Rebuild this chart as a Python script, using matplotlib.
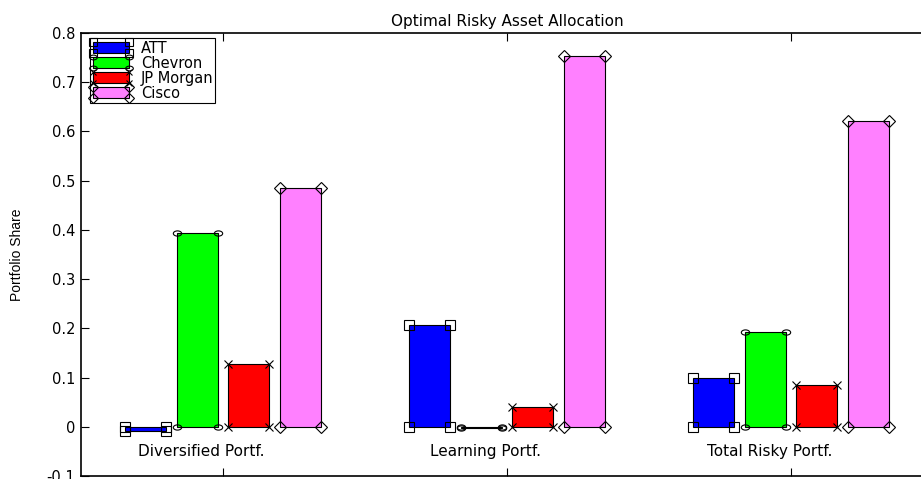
import numpy as np
import matplotlib
matplotlib.use('Agg')
import matplotlib.pyplot as plt
from matplotlib.patches import Rectangle
from matplotlib.lines import Line2D
from matplotlib.legend_handler import HandlerBase
from matplotlib.path import Path
from matplotlib.transforms import Affine2D

plt.rcParams['font.family'] = ['DejaVu Sans']

portfolios = ['Diversified Portf.', 'Learning Portf.', 'Total Risky Portf.']
assets = ['ATT', 'Chevron', 'JP Morgan', 'Cisco']
# portfolio shares, one list per asset (diversified, learning, total)
att = [-0.009, 0.207, 0.099]
chevron = [0.394, -0.002, 0.192]
jp_morgan = [0.128, 0.040, 0.084]
cisco = [0.485, 0.753, 0.622]

colors = ['#0000ff', '#00ff00', '#ff0000', '#ff80ff']
# wide ellipse like the old (stretched) matlab circle marker
oval = Path.unit_circle().transformed(Affine2D().scale(1.6, 1.0))
markers = ['s', oval, 'x', 'D']
marker_sizes = [6.5, 6, 5.5, 6]


class BarMarkHandler(HandlerBase):
    def __init__(self, marker, ms):
        super().__init__()
        self.marker = marker
        self.ms = ms

    def create_artists(self, legend, orig_handle, xdescent, ydescent, width, height, fontsize, trans):
        x0, y0 = -xdescent, -ydescent
        rect = Rectangle((x0, y0), width, height, facecolor=orig_handle[0].get_facecolor(),
                         edgecolor='k', linewidth=0.8, transform=trans)
        pts = Line2D([x0, x0 + width, x0, x0 + width], [y0 + height, y0 + height, y0, y0],
                     linestyle='none', marker=self.marker, markersize=self.ms,
                     markerfacecolor='none', markeredgecolor='k', markeredgewidth=0.8,
                     transform=trans)
        return [rect, pts]


def draw_group_bars(ax, series):
    n = len(series)
    group_w = min(0.8, n / (n + 1.5))
    bar_w = group_w / n * 0.8
    x = np.arange(1, len(portfolios) + 1)
    handles = []
    for i, vals in enumerate(series):
        xi = x + (i - (n - 1) / 2) * group_w / n
        bars = ax.bar(xi, vals, width=bar_w, color=colors[i], edgecolor='k',
                      linewidth=0.8, label=assets[i], zorder=2)
        # corner markers on each bar, as the old plot does
        cx = np.concatenate([xi - bar_w / 2, xi + bar_w / 2, xi - bar_w / 2, xi + bar_w / 2])
        cy = np.concatenate([vals, vals, np.zeros(len(vals)), np.zeros(len(vals))])
        ax.plot(cx, cy, linestyle='none', marker=markers[i], markersize=marker_sizes[i],
                markerfacecolor='none', markeredgecolor='k', markeredgewidth=0.8, zorder=3)
        handles.append(bars)
    return handles


def main():
    fig = plt.figure(figsize=(9.21, 4.79), dpi=100)
    ax = fig.add_axes([81 / 921, 3 / 479, (933 - 81) / 921, (476 - 33) / 479])

    handles = draw_group_bars(ax, [att, chevron, jp_morgan, cisco])

    ax.set_xlim(0.5, 3.5)
    ax.set_ylim(-0.1, 0.8)
    ax.set_yticks(np.arange(-0.1, 0.81, 0.1))
    ax.set_yticklabels(['-0.1', '0', '0.1', '0.2', '0.3', '0.4', '0.5', '0.6', '0.7', '0.8'])
    ax.set_xticks([1, 2, 3])
    ax.set_xticklabels([])
    ax.tick_params(direction='in', length=6, width=0.8, top=True, labelsize=10.5, pad=4)
    for s in ax.spines.values():
        s.set_linewidth(1.2)

    for i, name in enumerate(portfolios):
        ax.text(i + 1 - 0.075, -0.051, name, ha='center', va='center', fontsize=11)

    ax.set_title('Optimal Risky Asset Allocation', fontsize=11, pad=5)
    ax.set_ylabel('Portfolio Share', fontsize=10,
                  family=['Liberation Sans Narrow', 'Liberation Sans'], labelpad=16)

    hmap = {h: BarMarkHandler(markers[i], marker_sizes[i] - 0.5) for i, h in enumerate(handles)}
    leg = ax.legend(handles=handles, labels=assets, handler_map=hmap, loc='upper left',
                    bbox_to_anchor=(0.011, 0.988), fontsize=10.5, fancybox=False,
                    framealpha=1, edgecolor='k', borderpad=0.15, labelspacing=0.0,
                    handlelength=2.5, handleheight=0.75, handletextpad=0.8, borderaxespad=0)
    leg.get_frame().set_linewidth(0.8)

    fig.savefig('out.png', dpi=100)


if __name__ == '__main__':
    main()
